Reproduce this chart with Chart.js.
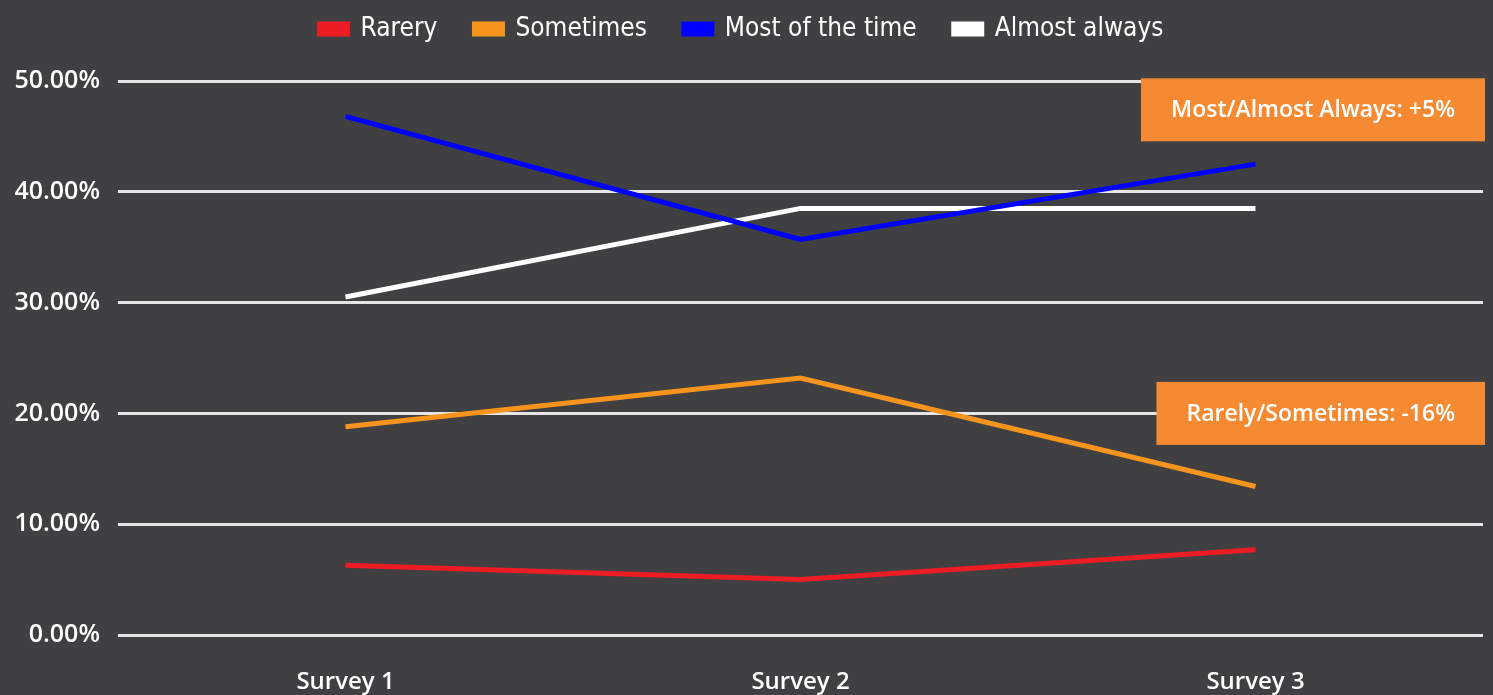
<!DOCTYPE html>
<html>
<head>
<meta charset="utf-8">
<script src="https://cdn.jsdelivr.net/npm/chart.js@4.4.0/dist/chart.umd.min.js"></script>
<style>
  html, body { margin: 0; padding: 0; background: #404042; }
  #wrap { width: 1493px; height: 695px; }
</style>
</head>
<body>
<div id="wrap"><canvas id="myChart" width="1493" height="695"></canvas></div>
<script>
var surveys = ["Survey 1", "Survey 2", "Survey 3"];
var rarely = [6.3, 5.0, 7.7];
var sometimes = [18.8, 23.2, 13.4];
var mostTime = [46.8, 35.7, 42.5];
var almostAlways = [30.5, 38.5, 38.5];
var seriesNames = ["Rarery", "Sometimes", "Most of the time", "Almost always"];
var seriesColors = ["#ED1C24", "#F7941D", "#0000FF", "#FFFFFF"];
var noteTexts = ["Most/Almost Always: +5%", "Rarely/Sometimes: -16%"];
var noteValues = [47.4, 20.0];

var axisFont = "'Open Sans', Lato, sans-serif";
var narrowFont = "'DejaVu Sans Condensed', 'Liberation Sans Narrow', sans-serif";

// orange boxes on the right
var notesPlugin = {
  id: 'notes',
  afterDatasetsDraw: function(chart) {
    var ctx = chart.ctx;
    var y = chart.scales.y;
    var area = chart.chartArea;
    ctx.save();
    ctx.font = "600 23px " + axisFont;
    for (var i = 0; i < noteTexts.length; i++) {
      var w = ctx.measureText(noteTexts[i]).width + 60;
      var h = 63;
      var right = area.right + 2;
      var cy = y.getPixelForValue(noteValues[i]);
      ctx.fillStyle = "#F58A33";
      ctx.fillRect(right - w, cy - h / 2, w, h);
      ctx.fillStyle = "#FFFFFF";
      ctx.textAlign = "center";
      ctx.textBaseline = "middle";
      ctx.fillText(noteTexts[i], right - w / 2, cy + 1);
    }
    ctx.restore();
  }
};

var legendSpace = {
  id: 'legendSpace',
  beforeInit: function(chart) {
    var fit = chart.legend.fit;
    chart.legend.fit = function() {
      fit.bind(chart.legend)();
      this.height += 29;
    };
  }
};

var data = [rarely, sometimes, mostTime, almostAlways];
var datasets = [];
for (var i = 0; i < data.length; i++) {
  datasets.push({
    label: seriesNames[i],
    data: data[i],
    borderColor: seriesColors[i],
    backgroundColor: seriesColors[i],
    borderWidth: 5,
    pointRadius: 0,
    tension: 0
  });
}

new Chart(document.getElementById("myChart"), {
  type: 'line',
  data: { labels: surveys, datasets: datasets },
  options: {
    responsive: false,
    animation: false,
    layout: { padding: { left: 0, right: 10, top: -21, bottom: 0 } },
    plugins: {
      tooltip: { enabled: false },
      legend: {
        position: 'top',
        labels: {
          color: "#FFFFFF",
          boxWidth: 28,
          boxHeight: 10,
          padding: 37,
          font: { family: narrowFont, size: 26 }
        }
      }
    },
    scales: {
      x: {
        offset: true,
        grid: { display: false },
        border: { display: false },
        ticks: { color: "#FFFFFF", padding: 25, font: { family: axisFont, size: 24, weight: '600' } },
        afterFit: function(scale) { scale.height = 60; }
      },
      y: {
        min: 0,
        max: 50,
        ticks: {
          stepSize: 10,
          color: "#FFFFFF",
          padding: 18,
          font: { family: axisFont, size: 25, weight: '600' },
          callback: function(v) { return v.toFixed(2) + "%"; }
        },
        grid: { color: "#E6E6E6", lineWidth: 3, drawTicks: false },
        border: { display: false },
        afterFit: function(scale) { scale.width = 118; }
      }
    }
  },
  plugins: [notesPlugin, legendSpace]
});
</script>
</body>
</html>
